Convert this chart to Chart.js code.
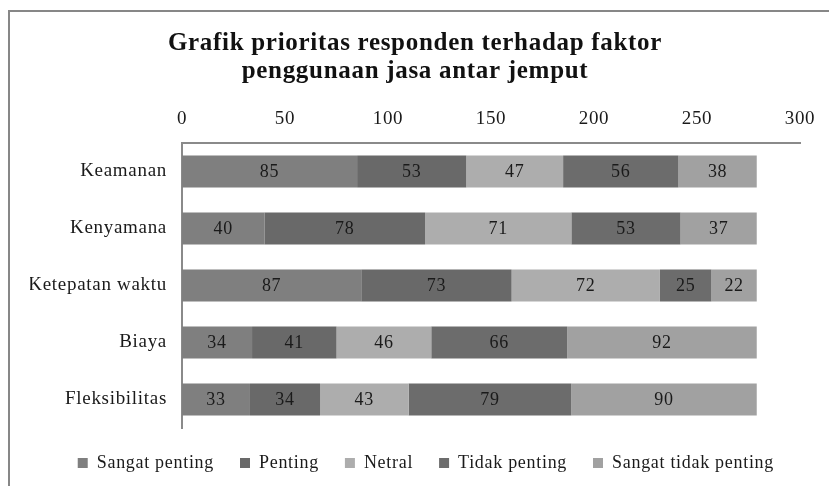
<!DOCTYPE html>
<html>
<head>
<meta charset="utf-8">
<script src="https://cdn.jsdelivr.net/npm/chart.js@4.4.0/dist/chart.umd.min.js"></script>
<style>
    body { margin: 0; background: #fff; overflow: hidden; }
    #frame { position: absolute; left: 8px; top: 10px; width: 900px; height: 600px; border: 2px solid #878787; }
    #wrap { position: absolute; left: 0; top: 0; width: 829px; height: 486px; }
</style>
</head>
<body>
<div id="frame"></div>
<div id="wrap"><canvas id="chart"></canvas></div>
<script>
// chart data
const categories = ['Keamanan', 'Kenyamana', 'Ketepatan waktu', 'Biaya', 'Fleksibilitas'];
const seriesNames = ['Sangat penting', 'Penting', 'Netral', 'Tidak penting', 'Sangat tidak penting'];
const sangatPenting = [85, 40, 87, 34, 33];
const penting = [53, 78, 73, 41, 34];
const netral = [47, 71, 72, 46, 43];
const tidakPenting = [56, 53, 25, 66, 79];
const sangatTidakPenting = [38, 37, 22, 92, 90];
const xTicks = [0, 50, 100, 150, 200, 250, 300];

const seriesValues = [sangatPenting, penting, netral, tidakPenting, sangatTidakPenting];
const seriesColors = ['#7f7f7f', '#696969', '#adadad', '#6c6c6c', '#a1a1a1'];
const serif = "'Liberation Serif', 'Times New Roman', serif";
const textColor = '#1a1a1a';

// the original text is a bit wider than Liberation Serif, so space it out a little
const spacing = {
    id: 'spacing',
    beforeUpdate(chart) { chart.ctx.letterSpacing = '0.7px'; },
    beforeDraw(chart) { chart.ctx.letterSpacing = '0.7px'; }
};

// draw the value inside each bar segment
const valueLabels = {
    id: 'valueLabels',
    afterDatasetsDraw(chart) {
        const ctx = chart.ctx;
        ctx.save();
        ctx.font = '18px ' + serif;
        ctx.fillStyle = textColor;
        ctx.textAlign = 'center';
        ctx.textBaseline = 'middle';
        chart.data.datasets.forEach((ds, i) => {
            chart.getDatasetMeta(i).data.forEach((bar, j) => {
                const p = bar.getCenterPoint();
                ctx.fillText(ds.data[j], p.x, p.y + 1);
            });
        });
        ctx.restore();
    }
};

const datasets = seriesNames.map((name, i) => ({
    label: name,
    data: seriesValues[i],
    backgroundColor: seriesColors[i],
    borderWidth: 0,
    categoryPercentage: 1,
    barPercentage: 0.56
}));

const ctx = document.getElementById('chart').getContext('2d');
new Chart(ctx, {
    type: 'bar',
    data: { labels: categories, datasets: datasets },
    plugins: [spacing, valueLabels],
    options: {
        indexAxis: 'y',
        responsive: true,
        maintainAspectRatio: false,
        animation: false,
        layout: { padding: { top: 30, right: 29, bottom: 4, left: 30 } },
        scales: {
            x: {
                position: 'top',
                stacked: true,
                min: 0,
                max: 300,
                afterBuildTicks: axis => { axis.ticks = xTicks.map(v => ({ value: v })); },
                afterFit: axis => { axis.height = 53; },
                grid: { display: false, drawTicks: false },
                border: { color: '#8a8a8a', width: 2 },
                ticks: { padding: 13, color: textColor, font: { family: serif, size: 19 } }
            },
            y: {
                stacked: true,
                afterFit: axis => { axis.width = 152; },
                grid: { display: false, drawTicks: false },
                border: { color: '#8a8a8a', width: 2 },
                ticks: { padding: 15, color: textColor, font: { family: serif, size: 19 } }
            }
        },
        plugins: {
            title: {
                display: true,
                text: ['Grafik prioritas responden terhadap faktor', 'penggunaan jasa antar jemput'],
                color: '#111',
                font: { family: serif, size: 25, weight: 'bold', lineHeight: 1.12 },
                padding: { top: 0, bottom: 4 }
            },
            legend: {
                position: 'bottom',
                align: 'end',
                labels: {
                    boxWidth: 10,
                    boxHeight: 10,
                    padding: 26,
                    color: textColor,
                    font: { family: serif, size: 18 }
                }
            },
            tooltip: { enabled: false }
        }
    }
});
</script>
</body>
</html>
